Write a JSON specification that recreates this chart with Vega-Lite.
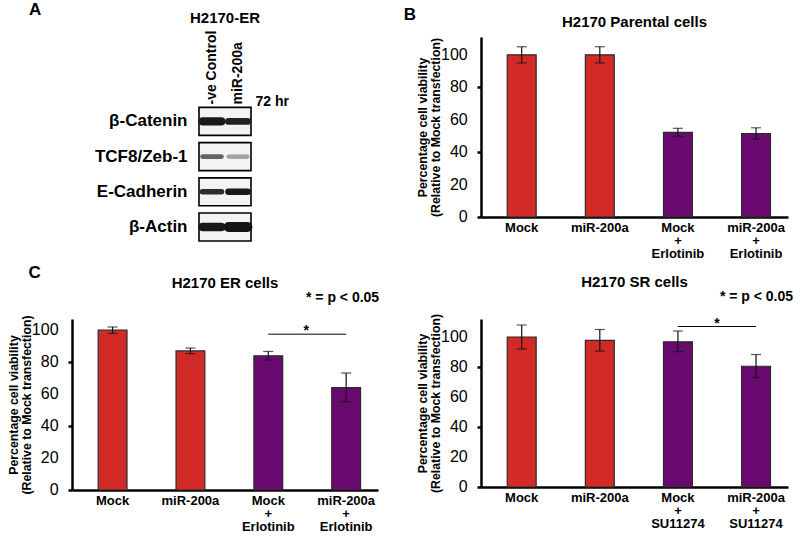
{
  "$schema": "https://vega.github.io/schema/vega-lite/v6.json",
  "padding": {"left": 7, "top": 1, "right": 4, "bottom": 4},
  "background": "white",
  "config": {
    "view": {"stroke": null},
    "font": "Liberation Sans",
    "title": {"font": "Liberation Sans", "fontSize": 15, "fontWeight": "bold", "color": "#000", "frame": "group", "baseline": "alphabetic", "anchor": "middle"},
    "axis": {"grid": false, "domainColor": "#000", "tickColor": "#000", "labelColor": "#000", "titleColor": "#000"},
    "axisY": {"domainWidth": 2.5, "tickSize": 4, "tickWidth": 2.5, "titleFont": "Liberation Sans", "titleFontSize": 12.3, "titleFontWeight": "bold", "titleLineHeight": 13.5},
    "axisBand": {"domainWidth": 2.5, "ticks": false, "labelAngle": 0, "labelFont": "Liberation Sans", "labelFontWeight": "bold", "labelFontSize": 13, "labelLineHeight": 13, "labelPadding": 4, "labelBaseline": "top"}
  },
  "datasets": {
    "yticks": [
      {"tick": 0}, {"tick": 20}, {"tick": 40}, {"tick": 60}, {"tick": 80}, {"tick": 100}
    ],
    "proteins": [
      {"protein": "β-Catenin"}, {"protein": "TCF8/Zeb-1"}, {"protein": "E-Cadherin"}, {"protein": "β-Actin"}
    ],
    "blot": [
      {"protein": "β-Catenin", "lane": "-ve Control", "intensity": 0.95, "thickness": 5.0},
      {"protein": "β-Catenin", "lane": "miR-200a", "intensity": 0.9, "thickness": 3.5},
      {"protein": "TCF8/Zeb-1", "lane": "-ve Control", "intensity": 0.6, "thickness": 1.2},
      {"protein": "TCF8/Zeb-1", "lane": "miR-200a", "intensity": 0.35, "thickness": 1.0},
      {"protein": "E-Cadherin", "lane": "-ve Control", "intensity": 0.85, "thickness": 2.2},
      {"protein": "E-Cadherin", "lane": "miR-200a", "intensity": 0.95, "thickness": 3.2},
      {"protein": "β-Actin", "lane": "-ve Control", "intensity": 0.95, "thickness": 5.0},
      {"protein": "β-Actin", "lane": "miR-200a", "intensity": 0.97, "thickness": 6.5}
    ],
    "parental": [
      {"group": "Mock", "treatment": "transfection", "value": 100, "lo": 95, "hi": 105},
      {"group": "miR-200a", "treatment": "transfection", "value": 100, "lo": 95, "hi": 105},
      {"group": "Mock|+|Erlotinib", "treatment": "drug", "value": 52.2, "lo": 49.8, "hi": 54.7},
      {"group": "miR-200a|+|Erlotinib", "treatment": "drug", "value": 51.5, "lo": 48, "hi": 55}
    ],
    "er": [
      {"group": "Mock", "treatment": "transfection", "value": 100, "lo": 98, "hi": 102},
      {"group": "miR-200a", "treatment": "transfection", "value": 87, "lo": 85.3, "hi": 88.8},
      {"group": "Mock|+|Erlotinib", "treatment": "drug", "value": 84, "lo": 81.3, "hi": 86.7},
      {"group": "miR-200a|+|Erlotinib", "treatment": "drug", "value": 64, "lo": 55.2, "hi": 73.2}
    ],
    "sr": [
      {"group": "Mock", "treatment": "transfection", "value": 100, "lo": 92, "hi": 108},
      {"group": "miR-200a", "treatment": "transfection", "value": 97.8, "lo": 90.6, "hi": 105},
      {"group": "Mock|+|SU11274", "treatment": "drug", "value": 96.8, "lo": 90.2, "hi": 104},
      {"group": "miR-200a|+|SU11274", "treatment": "drug", "value": 80.5, "lo": 73, "hi": 88.3}
    ]
  },
  "columns": 2,
  "bounds": "flush",
  "align": "each",
  "center": {"row": false, "column": true},
  "spacing": {"row": 78, "column": 103},
  "concat": [
    {
      "width": 52,
      "height": 204,
      "title": {"text": "H2170-ER", "offset": -25, "frame": "group"},
      "layer": [
        {
          "data": {"name": "proteins"},
          "mark": {"type": "rect", "fill": "#f3f3f3", "stroke": "#000", "strokeWidth": 1.6},
          "encoding": {
            "y": {"field": "protein", "type": "nominal", "sort": null,
                  "scale": {"paddingInner": 0.206, "paddingOuter": 1.103, "align": 1},
                  "axis": {"orient": "left", "title": null, "domain": false, "ticks": false, "labels": true, "labelFont": "Liberation Sans", "labelFontWeight": "bold", "labelFontSize": 17, "labelPadding": 12, "labelAngle": 0, "labelBaseline": "middle"}}
          }
        },
        {
          "data": {"name": "blot"},
          "mark": {"type": "rect", "height": {"band": 0.12}, "cornerRadius": 2},
          "encoding": {
            "y": {"field": "protein", "type": "nominal", "sort": null},
            "x": {"field": "lane", "type": "nominal", "sort": null,
                  "scale": {"paddingInner": 0.14, "paddingOuter": 0.07},
                  "axis": {"orient": "top", "offset": -69, "domain": false, "ticks": false, "labelAngle": -90, "labelAlign": "left", "labelBaseline": "middle", "labelPadding": 2, "labelFont": "Liberation Sans", "labelFontWeight": "bold", "labelFontSize": 14,
                           "title": "72 hr", "titleAngle": 0, "titleAlign": "left", "titleBaseline": "alphabetic", "titleX": 56, "titleY": -1, "titleFont": "Liberation Sans", "titleFontSize": 14, "titleFontWeight": "bold"}},
            "color": {"field": "intensity", "type": "quantitative", "scale": {"domain": [0, 1], "range": ["#ffffff", "#0d0d0d"]}, "legend": null},
            "stroke": {"field": "intensity", "type": "quantitative", "scale": {"domain": [0, 1], "range": ["#ffffff", "#0d0d0d"]}, "legend": null},
            "strokeWidth": {"field": "thickness", "type": "quantitative", "scale": null}
          }
        },
        {
          "data": {"values": [{}]},
          "mark": {"type": "text", "text": "A", "font": "Liberation Sans", "fontSize": 17, "fontWeight": "bold", "align": "left", "baseline": "middle", "dx": -183, "dy": -111},
          "encoding": {"x": {"datum": "-ve Control"}, "y": {"datum": "β-Catenin"}}
        }
      ]
    },
    {
      "width": 307,
      "height": 180,
      "title": {"text": "H2170 Parental cells", "offset": -24, "frame": "group"},
      "data": {"name": "parental"},
      "encoding": {"x": {"field": "group", "type": "nominal", "sort": null, "scale": {"paddingInner": 0.63, "paddingOuter": 0.28, "align": 0.6}, "axis": {"title": null, "labelExpr": "split(datum.label, '|')"}}},
      "layer": [
        {
          "mark": {"type": "bar", "stroke": "#2a2a2a", "strokeWidth": 1.2},
          "encoding": {
            "y": {"field": "value", "type": "quantitative", "scale": {"domain": [0, 111], "nice": false},
                  "axis": {"values": [0, 20, 40, 60, 80, 100], "labels": false, "titlePadding": 33},
                  "title": ["Percentage cell viability", "(Relative to Mock transfection)"]},
            "color": {"field": "treatment", "type": "nominal", "scale": {"domain": ["transfection", "drug"], "range": ["#d22a27", "#6a0a70"]}, "legend": null}
          }
        },
        {
          "mark": {"type": "errorbar", "ticks": {"size": 10}, "color": "#111", "thickness": 1.2},
          "encoding": {"y": {"field": "lo", "type": "quantitative", "axis": {"values": [0, 20, 40, 60, 80, 100], "labels": false, "titlePadding": 33}, "title": ["Percentage cell viability", "(Relative to Mock transfection)"]}, "y2": {"field": "hi"}}
        },
        {
          "data": {"name": "yticks"},
          "mark": {"type": "text", "font": "Liberation Sans Narrow, Liberation Sans", "fontSize": 16, "align": "right", "baseline": "middle", "dx": -54},
          "encoding": {"x": {"datum": "Mock"}, "y": {"field": "tick", "type": "quantitative"}, "text": {"field": "tick", "type": "quantitative"}}
        },
        {
          "data": {"values": [{}]},
          "mark": {"type": "text", "text": "B", "font": "Liberation Sans", "fontSize": 17, "fontWeight": "bold", "align": "left", "baseline": "middle", "dx": -118, "dy": -22},
          "encoding": {"x": {"datum": "Mock"}, "y": {"datum": 111}}
        }
      ]
    },
    {
      "width": 306,
      "height": 171,
      "title": {"text": "H2170 ER cells", "offset": -27, "frame": "group"},
      "data": {"name": "er"},
      "encoding": {"x": {"field": "group", "type": "nominal", "sort": null, "scale": {"paddingInner": 0.63, "paddingOuter": 0.28, "align": 0.6}, "axis": {"title": null, "labelExpr": "split(datum.label, '|')"}}},
      "layer": [
        {
          "mark": {"type": "bar", "stroke": "#2a2a2a", "strokeWidth": 1.2},
          "encoding": {
            "y": {"field": "value", "type": "quantitative", "scale": {"domain": [0, 107], "nice": false},
                  "axis": {"values": [0, 20, 40, 60, 80, 100], "labels": false, "titlePadding": 33},
                  "title": ["Percentage cell viability", "(Relative to Mock transfection)"]},
            "color": {"field": "treatment", "type": "nominal", "scale": {"domain": ["transfection", "drug"], "range": ["#d22a27", "#6a0a70"]}, "legend": null}
          }
        },
        {
          "mark": {"type": "errorbar", "ticks": {"size": 10}, "color": "#111", "thickness": 1.2},
          "encoding": {"y": {"field": "lo", "type": "quantitative", "axis": {"values": [0, 20, 40, 60, 80, 100], "labels": false, "titlePadding": 33}, "title": ["Percentage cell viability", "(Relative to Mock transfection)"]}, "y2": {"field": "hi"}}
        },
        {
          "data": {"name": "yticks"},
          "mark": {"type": "text", "font": "Liberation Sans Narrow, Liberation Sans", "fontSize": 16, "align": "right", "baseline": "middle", "dx": -54},
          "encoding": {"x": {"datum": "Mock"}, "y": {"field": "tick", "type": "quantitative"}, "text": {"field": "tick", "type": "quantitative"}}
        },
        {
          "data": {"values": [{}]},
          "mark": {"type": "rule", "color": "#000", "strokeWidth": 1},
          "encoding": {"x": {"datum": "Mock|+|Erlotinib"}, "x2": {"datum": "miR-200a|+|Erlotinib"}, "y": {"datum": 97.5}}
        },
        {
          "data": {"values": [{}]},
          "mark": {"type": "text", "text": "*", "font": "Liberation Sans", "fontSize": 14, "fontWeight": "bold", "align": "center", "baseline": "alphabetic", "dx": 38, "dy": 1},
          "encoding": {"x": {"datum": "Mock|+|Erlotinib"}, "y": {"datum": 97.5}}
        },
        {
          "data": {"values": [{}]},
          "mark": {"type": "text", "text": "* = p < 0.05", "font": "Liberation Sans", "fontSize": 14, "fontWeight": "bold", "align": "right", "baseline": "middle", "dx": 33, "dy": -21},
          "encoding": {"x": {"datum": "miR-200a|+|Erlotinib"}, "y": {"datum": 107}}
        },
        {
          "data": {"values": [{}]},
          "mark": {"type": "text", "text": "C", "font": "Liberation Sans", "fontSize": 17, "fontWeight": "bold", "align": "left", "baseline": "middle", "dx": -84, "dy": -46},
          "encoding": {"x": {"datum": "Mock"}, "y": {"datum": 107}}
        }
      ]
    },
    {
      "width": 307,
      "height": 168,
      "title": {"text": "H2170 SR cells", "offset": 0, "frame": "group"},
      "data": {"name": "sr"},
      "encoding": {"x": {"field": "group", "type": "nominal", "sort": null, "scale": {"paddingInner": 0.63, "paddingOuter": 0.28, "align": 0.6}, "axis": {"title": null, "labelExpr": "split(datum.label, '|')"}}},
      "layer": [
        {
          "mark": {"type": "bar", "stroke": "#2a2a2a", "strokeWidth": 1.2},
          "encoding": {
            "y": {"field": "value", "type": "quantitative", "scale": {"domain": [0, 112], "nice": false},
                  "axis": {"values": [0, 20, 40, 60, 80, 100], "labels": false, "titlePadding": 33},
                  "title": ["Percentage cell viability", "(Relative to Mock transfection)"]},
            "color": {"field": "treatment", "type": "nominal", "scale": {"domain": ["transfection", "drug"], "range": ["#d22a27", "#6a0a70"]}, "legend": null}
          }
        },
        {
          "mark": {"type": "errorbar", "ticks": {"size": 10}, "color": "#111", "thickness": 1.2},
          "encoding": {"y": {"field": "lo", "type": "quantitative", "axis": {"values": [0, 20, 40, 60, 80, 100], "labels": false, "titlePadding": 33}, "title": ["Percentage cell viability", "(Relative to Mock transfection)"]}, "y2": {"field": "hi"}}
        },
        {
          "data": {"name": "yticks"},
          "mark": {"type": "text", "font": "Liberation Sans Narrow, Liberation Sans", "fontSize": 16, "align": "right", "baseline": "middle", "dx": -54},
          "encoding": {"x": {"datum": "Mock"}, "y": {"field": "tick", "type": "quantitative"}, "text": {"field": "tick", "type": "quantitative"}}
        },
        {
          "data": {"values": [{}]},
          "mark": {"type": "rule", "color": "#000", "strokeWidth": 1},
          "encoding": {"x": {"datum": "Mock|+|SU11274"}, "x2": {"datum": "miR-200a|+|SU11274"}, "y": {"datum": 107}}
        },
        {
          "data": {"values": [{}]},
          "mark": {"type": "text", "text": "*", "font": "Liberation Sans", "fontSize": 14, "fontWeight": "bold", "align": "center", "baseline": "alphabetic", "dx": 39, "dy": 1},
          "encoding": {"x": {"datum": "Mock|+|SU11274"}, "y": {"datum": 107}}
        },
        {
          "data": {"values": [{}]},
          "mark": {"type": "text", "text": "* = p < 0.05", "font": "Liberation Sans", "fontSize": 14, "fontWeight": "bold", "align": "right", "baseline": "middle", "dx": 37, "dy": -22},
          "encoding": {"x": {"datum": "miR-200a|+|SU11274"}, "y": {"datum": 112}}
        }
      ]
    }
  ]
}
